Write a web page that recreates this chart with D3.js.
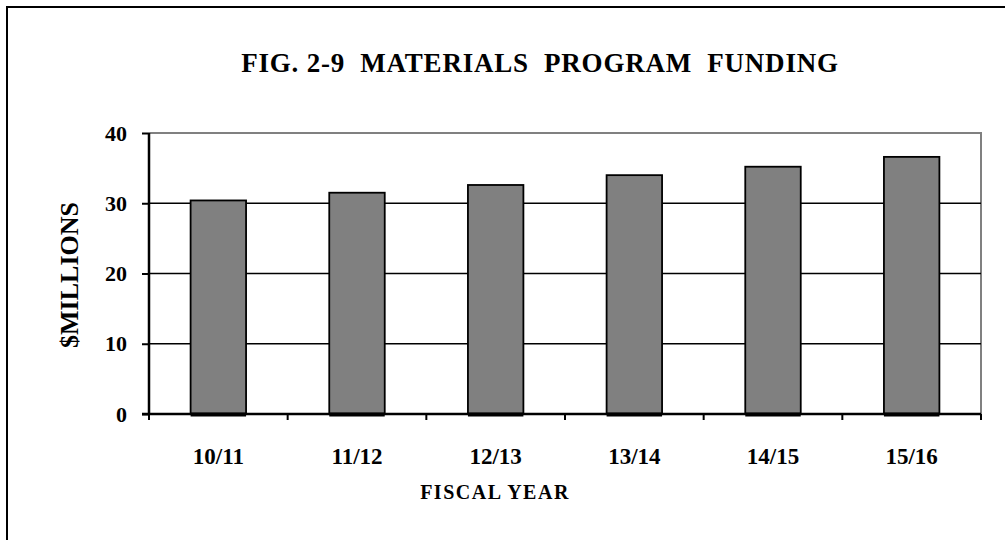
<!DOCTYPE html>
<html>
<head>
    <meta http-equiv="content-type" content="text/html; charset=utf-8"/>
    <title>FIG. 2-9 MATERIALS PROGRAM FUNDING</title>
    <style type="text/css">
        body, html {width: 100%;height: 100%;overflow: hidden;margin:0;background:#fff;}
        text {font-family: "Liberation Serif", "Times New Roman", serif; font-weight: bold;}
    </style>
    <script src="https://cdn.jsdelivr.net/npm/d3@7/dist/d3.min.js"></script>
</head>
<body>
<div id="chart"></div>
<script>
    // data
    var years = ["10/11", "11/12", "12/13", "13/14", "14/15", "15/16"];
    var funding = [30.4, 31.5, 32.6, 34.0, 35.2, 36.6];
    var yTicks = [0, 10, 20, 30, 40];

    var W = 1005, H = 540;
    var svg = d3.select("#chart").append("svg").attr("width", W).attr("height", H);

    // outer frame (runs off the right/bottom edge like the original)
    svg.append("rect").attr("x", 7).attr("y", 7).attr("width", W + 20).attr("height", H + 20)
        .attr("fill", "none").attr("stroke", "#000").attr("stroke-width", 2);

    var pL = 149, pR = 981, pT = 133, pB = 414;

    var x = d3.scaleBand().domain(years).range([pL, pR]).paddingInner(0.6).paddingOuter(0.3);
    var y = d3.scaleLinear().domain([0, 40]).range([pB, pT]);

    // plot area border (grey top + right)
    svg.append("path")
        .attr("d", "M" + pL + "," + pT + "H" + pR + "V" + pB)
        .attr("fill", "none").attr("stroke", "#808080").attr("stroke-width", 2);

    // gridlines
    svg.append("g").selectAll("line").data(yTicks.filter(function (d) { return d > 0 && d < 40; }))
        .enter().append("line")
        .attr("x1", pL).attr("x2", pR)
        .attr("y1", function (d) { return y(d); }).attr("y2", function (d) { return y(d); })
        .attr("stroke", "#000").attr("stroke-width", 1.5);

    // bars
    var bars = svg.append("g");
    bars.selectAll("rect").data(funding).enter().append("rect")
        .attr("x", function (d, i) { return x(years[i]); })
        .attr("y", function (d) { return y(d); })
        .attr("width", x.bandwidth())
        .attr("height", function (d) { return pB - y(d); })
        .attr("fill", "#808080").attr("stroke", "#000").attr("stroke-width", 1.8);
    // heavier bottom edge of each bar
    bars.selectAll("line").data(years).enter().append("line")
        .attr("x1", function (d) { return x(d); }).attr("x2", function (d) { return x(d) + x.bandwidth(); })
        .attr("y1", pB + 0.5).attr("y2", pB + 0.5)
        .attr("stroke", "#000").attr("stroke-width", 4);

    // y axis
    var yAxis = svg.append("g").attr("transform", "translate(" + pL + ",0)")
        .call(d3.axisLeft(y).tickValues(yTicks).tickSize(7).tickPadding(15));
    yAxis.select(".domain").attr("stroke-width", 2.5).attr("d", "M0," + pT + "V" + pB);
    yAxis.selectAll(".tick line").attr("stroke-width", 2);
    yAxis.selectAll("text").attr("font-size", 22).attr("fill", "#000")
        .style("font-family", "Liberation Serif").style("font-weight", "bold");

    // x axis: ticks sit on the category boundaries
    var bounds = d3.range(years.length + 1).map(function (i) { return pL + (pR - pL) * i / years.length; });
    var xg = svg.append("g");
    xg.append("line").attr("x1", pL - 7).attr("x2", pR).attr("y1", pB).attr("y2", pB)
        .attr("stroke", "#000").attr("stroke-width", 2.5);
    xg.selectAll("line.tk").data(bounds).enter().append("line").attr("class", "tk")
        .attr("x1", function (d) { return d; }).attr("x2", function (d) { return d; })
        .attr("y1", pB).attr("y2", pB + 6)
        .attr("stroke", "#000").attr("stroke-width", 2);
    xg.selectAll("text").data(years).enter().append("text")
        .attr("x", function (d) { return x(d) + x.bandwidth() / 2; })
        .attr("y", 464)
        .attr("text-anchor", "middle").attr("font-size", 23)
        .text(function (d) { return d; });

    // titles
    svg.append("text").attr("x", 540).attr("y", 72).attr("text-anchor", "middle")
        .attr("font-size", 27).attr("letter-spacing", 0.8).style("white-space", "pre")
        .text("FIG. 2-9  MATERIALS  PROGRAM  FUNDING");
    svg.append("text").attr("x", 495).attr("y", 499).attr("text-anchor", "middle")
        .attr("font-size", 20).attr("letter-spacing", 1.5).text("FISCAL YEAR");
    svg.append("text").attr("transform", "translate(78,275) rotate(-90)").attr("text-anchor", "middle")
        .attr("font-size", 26).text("$MILLIONS");
</script>
</body>
</html>
